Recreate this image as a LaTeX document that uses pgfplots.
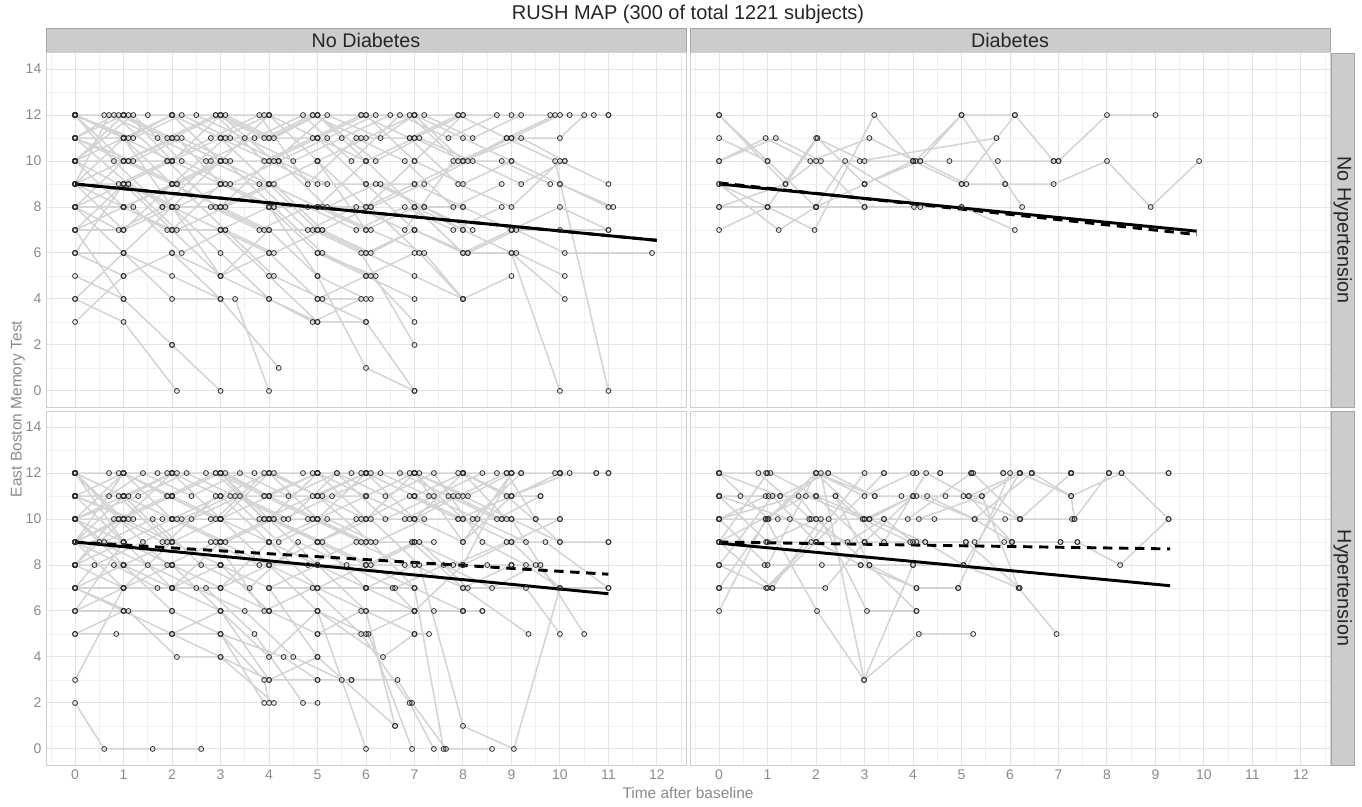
\documentclass[border=0pt]{standalone}
\usepackage{fontspec}
\setmainfont{Liberation Sans}
\usepackage{pgfplots}
\pgfplotsset{compat=1.18}
\definecolor{gridmaj}{HTML}{E3E3E3}
\definecolor{gridmin}{HTML}{F1F1F1}
\definecolor{paneledge}{HTML}{CFCFCF}
\definecolor{stripbg}{HTML}{CCCCCC}
\definecolor{stripedge}{HTML}{A6A6A6}
\definecolor{trajline}{HTML}{D4D4D4}
\definecolor{ticktext}{HTML}{8A8A8A}
\definecolor{titletext}{HTML}{262626}
\pgfplotsset{
  panel/.style={
    scale only axis, width=480pt, height=265.5pt,
    xmin=-0.6, xmax=12.6, ymin=-0.7, ymax=14.7,
    xtick={0,...,12}, ytick={0,2,...,14},
    minor xtick={-0.5,0.5,...,12.5}, minor ytick={1,3,...,13},
    grid=both,
    major grid style={draw=gridmaj, line width=0.75pt},
    minor grid style={draw=gridmin, line width=0.5pt},
    axis line style={draw=paneledge, line width=0.75pt},
    tick style={draw=none},
    major tick length=0pt, minor tick length=0pt,
    unbounded coords=jump,
    ticklabel style={font=\fontsize{10.5}{12}\selectfont, text=ticktext},
    /pgf/number format/assume math mode=true,
  },
  traj/.style={draw=trajline, line width=1.15pt, mark=o, mark size=1.85pt,
    mark options={draw=black!82, line width=0.6pt, fill=none, solid}},
  fitS/.style={black, line width=2.2pt, no marks},
  fitD/.style={black, line width=2.2pt, dash pattern=on 7pt off 5pt, no marks},
}
\begin{document}
\begin{tikzpicture}
\path[use as bounding box] (0,0) rectangle (1021.5pt,-604.5pt);
% strips
\draw[fill=stripbg, draw=stripedge, line width=0.5pt] (34.5pt,-21pt) rectangle (514.5pt,-39pt);
\draw[fill=stripbg, draw=stripedge, line width=0.5pt] (517.5pt,-21pt) rectangle (997.5pt,-39pt);
\draw[fill=stripbg, draw=stripedge, line width=0.5pt] (998.5pt,-39.75pt) rectangle (1015.5pt,-305.25pt);
\draw[fill=stripbg, draw=stripedge, line width=0.5pt] (998.5pt,-308.25pt) rectangle (1015.5pt,-573.75pt);
\node[font=\fontsize{14.8}{16}\selectfont, text=titletext] at (274.5pt,-30pt) {No Diabetes};
\node[font=\fontsize{14.8}{16}\selectfont, text=titletext] at (757.5pt,-30pt) {Diabetes};
\node[font=\fontsize{14.8}{16}\selectfont, text=titletext, rotate=-90] at (1007pt,-172.5pt) {No Hypertension};
\node[font=\fontsize{14.8}{16}\selectfont, text=titletext, rotate=-90] at (1007pt,-441pt) {Hypertension};
\node[font=\fontsize{15}{17}\selectfont, text=titletext] at (516pt,-10.5pt) {RUSH MAP (300 of total 1221 subjects)};
\node[font=\fontsize{11.6}{13}\selectfont, text=ticktext] at (516pt,-595pt) {Time after baseline};
\node[font=\fontsize{11.6}{13}\selectfont, text=ticktext, rotate=90] at (13.5pt,-306.75pt) {East Boston Memory Test};

% ---------------- Top-left: No Diabetes, No Hypertension
\begin{axis}[panel, at={(34.5pt,-39.75pt)}, anchor=north west, xticklabels={}]
\addplot[traj] coordinates {
(0,12)(0.9,12)(1.9,11)(2.9,12)(3.9,10)(4.9,11)(5.9,12)(6.9,12)(7.9,10)(9.0,11)(10,12)(11,12) (nan,nan)
(0,11)(1.0,11)(2.0,10)(3.0,11)(4.0,9)(5.0,10)(6.0,8)(7.0,9)(8.0,8)(9.0,7)(10.0,8)(11,7) (nan,nan)
(0,10)(1.1,10)(2.1,9)(3.1,10)(4.1,8)(5.1,8)(6.1,7)(7.2,6)(8.0,4)(9.0,5) (nan,nan)
(0,9)(1.0,9)(2.0,8)(3.0,8)(4.0,7)(5.0,7)(6.0,6)(7.0,7)(8.1,6)(9.1,7)(10.1,6)(11.9,6) (nan,nan)
(0,8)(1.0,8)(2.0,7)(3.0,9)(4.0,8)(5.0,6)(6.0,5)(7.0,4) (nan,nan)
(0,7)(1.0,8)(2.0,7)(3.0,7)(4.0,6)(5.0,4)(6.0,3)(7.0,0) (nan,nan)
(0,6)(1.0,6)(2.0,5)(3.0,4)(4.2,1) (nan,nan)
(0,5)(1.0,4)(2.0,2)(3.0,0) (nan,nan)
(0,4)(1.0,3)(2.1,0) (nan,nan)
(0,3)(1.0,5)(2.0,6)(3.0,4) (nan,nan)
(0,12)(1.1,11)(2.0,12)(3.1,12)(4.1,11)(5.0,12)(6.2,10)(7.1,11)(8.2,10)(9.2,9)(10.1,10) (nan,nan)
(0,11)(0.8,12)(1.9,10)(2.8,11)(3.8,12)(4.8,9)(5.8,11)(6.8,10)(7.8,8)(8.8,9) (nan,nan)
(0,10)(1.2,12)(2.2,10)(3.2,9)(4.2,10)(5.2,8)(6.2,9)(7.2,8)(8.2,7) (nan,nan)
(0,9)(0.7,12)(1.7,11)(2.7,10)(3.7,11)(4.7,12)(5.7,10)(6.7,12)(7.7,11)(8.7,12)(9.8,12)(10.7,12) (nan,nan)
(0,8)(1.0,10)(2.0,9)(3.0,10)(4.0,12)(5.0,11)(6.0,12)(7.0,10)(8.0,9)(9.0,10)(10.0,9)(11.0,8) (nan,nan)
(0,12)(1.0,10)(2.1,11)(3.0,9)(4.0,8)(5.0,5)(6.0,4) (nan,nan)
(0,10)(1.0,11)(2.0,8)(3.0,6)(4.0,4)(4.9,3)(5.9,4) (nan,nan)
(0,9)(1.1,9)(2.1,7)(3.1,8)(4.1,9)(5.1,7)(6.1,8)(7.2,9)(8.1,10) (nan,nan)
(0,11)(1.2,10)(2.2,11)(3.2,10)(4.2,10)(5.2,11)(6.2,12)(7.2,12)(8.2,11)(9.2,12) (nan,nan)
(0,12)(0.6,12)(1.5,12)(2.5,12)(3.5,11)(4.5,10)(5.5,11)(6.5,12) (nan,nan)
(0,7)(1.0,7)(2.0,8)(3.0,10)(4.0,9)(5.0,10)(6.0,7)(7.0,8)(8.0,7)(9.0,6)(10.1,4) (nan,nan)
(0,8)(1.2,8)(2.2,6)(3.1,7)(4.1,5)(5.1,4)(6.1,4) (nan,nan)
(0,10)(0.9,9)(1.9,10)(2.9,8)(3.9,7)(4.9,7)(5.9,6)(7.0,2) (nan,nan)
(0,11)(1.0,12)(2.0,11)(3.0,12)(3.9,12)(4.9,12)(5.9,11)(6.9,11)(7.9,12)(8.9,11)(9.9,10)(11,0) (nan,nan)
(0,9)(1.0,7)(2.0,9)(3.0,8)(4.0,10)(5.0,9)(6.0,9)(7.0,7)(8.0,6)(9.0,6)(10.0,0) (nan,nan)
(0,12)(1.0,12)(2.0,12)(3.0,11)(4.0,12)(5.0,10)(6.0,8)(7.0,10)(8.0,12)(9.0,12)(10.2,12) (nan,nan)
(0,10)(1.1,10)(2.0,10)(3.0,9)(4.0,9)(5.0,8)(6.1,8)(7.1,6)(8.0,4) (nan,nan)
(0,8)(1.0,6)(2.0,4)(3.3,4)(4.0,0) (nan,nan)
(0,7)(1.0,4)(2.0,2) (nan,nan)
(0,6)(1.0,9)(2.0,7)(3.0,5)(4.0,7)(5.0,5)(6.0,1)(7.0,0) (nan,nan)
(0,12)(1.1,12)(2.0,10)(3.0,12)(4.1,10)(5.2,12)(6.3,11)(7.0,12)(7.9,12) (nan,nan)
(0,11)(1.0,11)(2.0,9)(3.1,11)(4.0,11)(5.0,11)(6.0,9)(7.0,9)(8.0,10)(8.9,11)(9.9,12) (nan,nan)
(0,10)(1.0,8)(2.0,9)(3.0,9)(4.0,8)(5.0,8)(6.0,7)(7.0,8)(8.0,8)(9.0,7)(10.0,7)(11.0,7) (nan,nan)
(0,9)(1.0,8)(2.1,9)(3.1,7)(4.1,6)(5.1,7)(6.1,6)(7.0,7)(8.1,6)(9.1,6)(10.1,5) (nan,nan)
(0,12)(1.0,11)(2.0,12)(2.9,12)(3.9,11)(4.9,12)(5.9,12)(6.9,11)(7.9,9)(9.0,8)(10.0,10)(11.0,9) (nan,nan)
(0,8)(0.9,7)(1.8,8)(2.8,8)(3.8,7)(4.8,8)(5.8,7)(6.8,8)(7.8,7)(8.8,8) (nan,nan)
(0,6)(1.0,5)(2.0,6)(3.0,5)(4.0,4)(5.0,3) (nan,nan)
(0,4)(1.0,6)(2.0,8)(3.0,5)(4.0,6)(5.0,4)(6.0,5)(7.0,6) (nan,nan)
(0,10)(1.0,12)(2.0,12)(3.0,10)(4.0,12)(5.0,10)(6.0,11)(7.0,12)(8.0,11)(9.0,10)(10.0,9)(11.1,8) (nan,nan)
(0,11)(1.0,10)(2.0,9)(3.0,8)(4.0,9)(5.0,7)(6.0,6)(7.0,5)(8.0,4) (nan,nan)
(0,9)(1.0,10)(2.0,11)(3.0,10)(4.0,9)(5.0,8)(6.0,10)(7.0,8)(8.0,6)(9.0,7) (nan,nan)
(0,12)(1.2,11)(2.2,12)(3.2,11)(4.2,10)(5.2,9)(6.3,9)(7.2,8)(8.0,7) (nan,nan)
(0,7)(1.0,9)(2.0,10)(3.0,11)(4.0,10)(5.0,11)(6.0,10)(7.0,11)(8.0,12) (nan,nan)
(0,9)(1.0,11)(2.0,8)(3.0,7)(4.0,8)(5.0,6)(6.2,5) (nan,nan)
(0,10)(1.0,8)(1.9,7)(3.0,7)(4.0,5)(5.0,3)(6.0,3) (nan,nan)
(0,8)(1.0,9)(2.0,10)(3.0,12)(4.0,11)(5.0,12)(6.0,12)(7.0,12)(8.0,10)(9.0,11)(10.0,11)(10.5,12)(11.0,12) (nan,nan)
(0,12)(0.8,10)(1.8,8)(2.8,10)(3.8,9)(4.8,7)(5.8,8)(6.8,7)(7.8,10)(8.8,10)(9.8,9) (nan,nan)
(0,11)(1.1,9)(2.1,8)(3.1,9)(4.1,8)(5.1,6)(6.1,5)(7.0,3) (nan,nan)
(0,10)(1.0,12)(2.0,11)(3.0,12)(4.0,12)(5.0,12)(6.0,10)(7.0,11)(8.0,10)(9.2,11)(10.1,10) (nan,nan)
};
\addplot[fitD] coordinates {(0,9.0)(12,6.55)};
\addplot[fitS] coordinates {(0,9.0)(12,6.55)};
\end{axis}

% ---------------- Top-right: Diabetes, No Hypertension
\begin{axis}[panel, at={(517.5pt,-39.75pt)}, anchor=north west, xticklabels={}, yticklabels={}]
\addplot[traj] coordinates {
(0,12)(1.37,9)(2.03,11)(3.0,9)(4.15,10)(5.1,9)(5.9,9)(6.9,9)(8.0,10)(8.9,8)(9.9,10) (nan,nan)
(0,11)(1.0,10)(2.0,8)(3.0,8)(4.02,8)(5.0,8)(6.1,7) (nan,nan)
(0,10)(0.96,11)(1.88,10)(3.1,11)(4.05,10)(5.0,12)(6.25,8) (nan,nan)
(0,10)(1.17,11)(2.1,10)(2.9,10)(5.72,11) (nan,nan)
(0,8)(1.0,8)(2.0,8)(3.0,9)(4.0,10)(4.75,10)(5.75,10)(7.0,10)(8.0,12)(9.0,12) (nan,nan)
(0,7)(1.0,8)(1.97,7)(3.2,12)(4.0,10)(5.0,9)(6.1,12)(6.9,10) (nan,nan)
(0,9)(1.23,7)(2.0,8)(2.6,10)(4.15,8)(5.0,8) (nan,nan)
(0,8)(1.37,9)(2.0,10)(3.0,8) (nan,nan)
(0,9)(1.0,8)(2.0,11)(3.0,10)(4.0,10)(5.0,9)(5.9,9) (nan,nan)
(0,12)(1.0,10)(2.0,8)(3.0,9)(4.15,10)(5.0,12)(6.1,12)(6.9,10)(7.0,10) (nan,nan)
};
\addplot[fitD] coordinates {(0,9.05)(9.85,6.8)};
\addplot[fitS] coordinates {(0,9.0)(9.85,6.95)};
\end{axis}

% ---------------- Bottom-left: No Diabetes, Hypertension
\begin{axis}[panel, at={(34.5pt,-308.25pt)}, anchor=north west]
\addplot[traj] coordinates {
(0,12)(0.9,12)(1.9,12)(2.9,12)(3.9,11)(5.0,12)(6.0,12)(7.0,12)(8.0,12)(9.0,12)(10.0,12)(11.0,12) (nan,nan)
(0,12)(1.0,11)(2.0,12)(3.0,10)(4.0,12)(5.0,11)(6.0,12)(7.0,10)(8.0,9)(9.0,11)(10.2,12) (nan,nan)
(0,11)(1.0,12)(2.0,11)(3.0,12)(4.0,10)(5.0,10)(6.0,11)(7.0,12)(8.0,11)(9.0,10)(10.0,9)(11.0,9) (nan,nan)
(0,11)(1.1,10)(2.1,10)(3.1,9)(4.1,10)(5.1,9)(6.1,8)(7.1,9)(8.1,7)(9.3,7)(10.0,5) (nan,nan)
(0,10)(1.0,10)(2.0,9)(3.0,10)(4.0,8)(5.0,9)(6.0,7)(7.0,6)(8.0,6)(8.4,6) (nan,nan)
(0,10)(0.6,9)(1.6,10)(2.6,8)(3.6,7)(4.6,9)(5.6,8)(6.6,7)(7.6,8)(8.6,7)(9.5,8) (nan,nan)
(0,9)(1.0,9)(2.0,8)(3.0,8)(4.0,7)(5.0,7)(6.0,6)(7.0,5)(7.3,5) (nan,nan)
(0,9)(0.5,9)(1.5,8)(2.5,7)(3.5,6)(4.5,4)(5.5,3) (nan,nan)
(0,8)(1.0,8)(2.0,7)(3.0,7)(4.0,6)(5.0,5)(5.9,6)(7.0,6)(8.0,8)(9.0,12) (nan,nan)
(0,8)(0.8,8)(1.7,7)(2.7,7)(3.7,5)(4.7,2)(5.0,2) (nan,nan)
(0,7)(1.0,7)(2.0,7)(3.0,6)(4.0,3)(5.0,4) (nan,nan)
(0,7)(1.1,6)(2.1,4)(3.0,4)(4.1,2) (nan,nan)
(0,6)(1.0,6)(2.0,6)(3.0,5)(3.9,3)(4.0,2) (nan,nan)
(0,5)(0.85,5)(2.0,5)(3.0,5)(3.9,2) (nan,nan)
(0,3)(1.0,7)(2.0,9)(3.0,8) (nan,nan)
(0,2)(0.6,0)(1.6,0)(2.6,0) (nan,nan)
(0,12)(1.0,12)(1.9,11)(2.9,10)(3.9,12)(4.9,12)(5.9,12)(6.9,12)(7.9,12)(8.9,12)(9.9,12)(10.75,12) (nan,nan)
(0,11)(0.7,11)(1.4,12)(2.4,11)(3.4,12)(4.4,11)(5.4,12)(6.4,10)(7.4,11)(8.4,12)(9.2,12) (nan,nan)
(0,10)(1.3,11)(2.3,12)(3.3,11)(4.3,10)(5.3,11)(6.3,12)(7.3,11)(8.3,10)(9.3,9) (nan,nan)
(0,9)(1.0,12)(2.0,10)(3.0,11)(4.0,9)(5.0,10)(6.0,10)(6.9,11)(7.9,10)(9.0,11)(9.6,11) (nan,nan)
(0,8)(1.0,10)(2.0,11)(3.0,12)(4.0,11)(5.0,12)(6.1,12)(7.1,12)(8.0,12)(8.9,10)(10,10) (nan,nan)
(0,12)(0.9,10)(1.9,8)(2.9,9)(3.9,6)(4.9,7)(5.9,5)(6.9,2)(7.4,0) (nan,nan)
(0,11)(1.0,9)(2.0,8)(3.0,6)(4.0,6)(5.0,6)(6.0,0) (nan,nan)
(0,10)(1.0,8)(2.0,7)(3.0,8)(4.0,7)(5.0,4)(6.6,1) (nan,nan)
(0,9)(1.0,10)(2.0,9)(3.0,9)(4.0,8)(5.0,8)(6.0,7)(7.0,7)(7.6,0)(8.6,0) (nan,nan)
(0,10)(1.0,11)(2.0,10)(3.0,10)(4.1,10)(5.0,9)(6.1,10)(7.1,8)(8.0,1)(9.05,0)(10.0,7) (nan,nan)
(0,8)(1.0,9)(2.0,10)(3.0,9)(4.0,9)(5.0,10)(6.0,9)(7.0,9)(8.0,8)(9.0,9)(10.0,7)(11,7) (nan,nan)
(0,7)(1.0,8)(2.0,9)(3.0,10)(4.0,11)(5.0,10)(6.0,11)(7.0,12)(8.1,11)(9.0,12) (nan,nan)
(0,6)(1.0,7)(2.0,8)(3.0,7)(4.0,8)(5.0,6)(6.0,5)(7.0,6)(7.4,6) (nan,nan)
(0,12)(1.0,10)(2.0,12)(3.0,11)(4.0,12)(5.0,12)(6.0,10)(7.0,12)(8.0,10)(9.0,9)(10.0,10) (nan,nan)
(0,11)(1.1,11)(2.0,12)(3.1,12)(4.0,11)(5.1,11)(6.0,11)(7.0,10)(7.9,11)(8.9,12)(9.5,10) (nan,nan)
(0,10)(0.9,10)(1.9,11)(2.9,12)(3.9,10)(4.9,10)(6.0,9)(6.95,9)(8.0,7)(9.35,5) (nan,nan)
(0,9)(1.0,11)(2.0,12)(3.0,12)(4.1,12)(5.0,11)(6.1,9)(7.0,7)(8.0,6) (nan,nan)
(0,8)(1.0,7)(2.0,8)(3.0,8)(4.0,8)(5.0,7)(6.0,8)(7.0,8)(8.0,8)(8.5,8)(9.0,8)(9.6,8) (nan,nan)
(0,12)(1.0,9)(2.0,10)(3.0,9)(4.0,10)(5.0,8)(6.0,8)(7.0,7)(8.0,6)(8.4,6) (nan,nan)
(0,11)(1.2,10)(2.2,10)(3.2,11)(4.2,9)(5.2,10)(6.2,9)(7.2,10)(8.2,10)(9.2,12)(10.0,12)(11.0,12) (nan,nan)
(0,10)(1.0,10)(2.0,11)(3.0,10)(4.0,10)(5.0,12)(6.0,12)(7.0,11)(8.0,10)(9.0,10)(10.5,5) (nan,nan)
(0,9)(0.9,10)(1.8,9)(2.8,9)(3.8,8)(4.8,8)(5.8,9)(6.8,8)(7.8,8)(8.9,9)(9.7,9)(11.0,7) (nan,nan)
(0,7)(1.0,6)(2.0,5)(3.0,4)(4.0,3)(5.0,3)(5.7,3)(6.65,3)(6.95,2)(7.65,0) (nan,nan)
(0,5)(1.0,6)(2.0,5)(3.0,6)(4.0,4)(5.0,6)(6.35,4)(7.0,5) (nan,nan)
(0,12)(1.0,12)(2.0,11)(3.0,12)(4.0,12)(5.0,10)(6.0,12)(7.0,11)(8.0,12)(8.7,12) (nan,nan)
(0,11)(1.0,11)(2.0,10)(3.0,11)(4.0,12)(5.0,11)(6.0,10)(7.0,12) (nan,nan)
(0,10)(1.0,12)(2.0,11)(3.0,10)(4.0,11)(5.0,12)(6.0,11)(7.0,10)(8.0,12)(8.9,11)(10.0,9)(11.0,9) (nan,nan)
(0,9)(1.0,7)(2.0,7)(3.0,7)(4.0,9)(5.0,7)(6.0,7)(6.55,7)(7.0,6) (nan,nan)
(0,8)(1.0,8)(2.0,8)(3.0,8)(4.0,7)(5.0,8)(6.0,6)(6.6,1) (nan,nan)
(0,12)(0.7,12)(1.7,12)(2.7,12)(3.7,12)(4.7,12)(5.7,12)(6.7,12)(7.7,11)(8.7,10)(9.6,11) (nan,nan)
(0,10)(1.0,9)(2.0,10)(3.0,10)(4.0,10)(5.0,9)(5.9,10)(6.9,10)(7.9,10)(8.8,10)(9.5,10) (nan,nan)
(0,11)(0.9,11)(1.9,9)(2.9,11)(3.9,11)(4.9,10)(5.9,9)(6.95,9)(7.4,9) (nan,nan)
(0,9)(1.0,8)(2.0,6)(3.0,5)(4.3,4)(5.0,3)(5.7,3) (nan,nan)
(0,6)(1.0,9)(2.0,7)(3.0,9)(4.0,10)(5.0,9)(6.0,8)(7.0,9)(8.0,8)(9.0,8) (nan,nan)
(0,12)(1.0,11)(2.0,9)(3.0,8)(4.0,6)(5.0,5)(6.05,5)(6.95,0) (nan,nan)
(0,10)(1.0,12)(2.1,12)(3.0,12)(3.9,10)(4.9,11)(6.0,12)(7.0,11)(8.0,12)(9.0,11)(10.0,12) (nan,nan)
(0,7)(0.4,8)(1.4,9)(2.4,10)(3.4,11)(4.4,10)(5.4,12)(6.4,11)(7.4,12)(8.4,9)(9.3,8)(10,7) (nan,nan)
(0,9)(1.0,10)(2.0,11)(3.0,10)(4.0,9)(5.0,8)(6.0,7)(7.0,8)(8.0,7)(9.0,8) (nan,nan)
(0,8)(0.8,10)(1.8,10)(2.8,10)(3.8,10)(4.8,10)(5.8,10)(6.8,10)(7.8,11)(8.8,10) (nan,nan)
(0,11)(1.0,11)(2.0,12)(3.0,12)(4.0,10)(5.0,12)(6.0,12)(7.0,12)(8.0,9)(9.0,12)(10.0,12)(10.75,12) (nan,nan)
};
\addplot[fitD] coordinates {(0,9.0)(11,7.6)};
\addplot[fitS] coordinates {(0,9.0)(11,6.75)};
\end{axis}

% ---------------- Bottom-right: Diabetes, Hypertension
\begin{axis}[panel, at={(517.5pt,-308.25pt)}, anchor=north west, yticklabels={}]
\addplot[traj] coordinates {
(0,12)(0.97,12)(2.0,12)(3.0,10)(3.89,10)(5.2,12)(6.2,12)(7.26,12)(8.04,12)(9.27,12) (nan,nan)
(0,12)(1.06,12)(2.0,11)(3.1,10)(4.0,11)(5.04,11)(6.2,10)(7.28,10) (nan,nan)
(0,11)(0.44,11)(1.02,11)(2.0,11)(2.4,11)(3.4,9)(4.27,12)(5.15,11)(6.21,12)(7.26,11)(8.3,12)(9.27,10) (nan,nan)
(0,11)(1.26,11)(2.25,12)(3.21,11)(4.07,11)(5.27,10)(6.45,12) (nan,nan)
(0,10)(0.96,10)(1.86,10)(2.96,10)(3.94,9)(5.09,9)(6.04,9)(7.04,9) (nan,nan)
(0,10)(1.21,10)(2.26,10)(3.1,10)(4.12,10)(5.42,11)(6.18,7) (nan,nan)
(0,9)(0.97,9)(2.0,9)(3.0,9)(4.07,9)(5.27,9)(5.88,9)(7.39,9) (nan,nan)
(0,9)(1.1,7)(2.19,7)(3.0,9)(4.25,9) (nan,nan)
(0,8)(0.94,8)(2.12,8)(2.92,8)(4.0,8)(5.04,8)(6.2,12) (nan,nan)
(0,8)(1.0,7)(2.0,9)(3.4,12)(4.56,12)(5.24,12)(6.21,10)(7.33,10)(8.04,12) (nan,nan)
(0,7)(0.97,7)(1.9,9)(3.0,12)(4.07,12)(5.2,12)(5.86,12)(6.45,12)(7.26,11)(7.33,10) (nan,nan)
(0,7)(1.1,7)(2.1,10)(3.05,6)(4.07,6) (nan,nan)
(0,6)(0.96,10)(2.02,6)(2.99,3)(4.0,8) (nan,nan)
(0,12)(1.02,10)(2.1,12)(2.99,3)(4.12,5)(5.24,5) (nan,nan)
(0,11)(1.46,10)(2.65,9)(3.4,10)(4.44,10)(5.9,10)(6.21,10)(7.26,12) (nan,nan)
(0,10)(1.64,11)(2.0,10)(3.1,8)(4.07,7)(4.93,7)(6.0,12) (nan,nan)
(0,9)(1.79,11)(3.0,10)(4.0,11)(4.29,11)(5.27,10)(6.04,9)(7.39,9)(8.27,8)(9.27,10) (nan,nan)
(0,12)(0.81,12)(1.9,10)(3.1,10)(4.25,9)(5.04,8)(6.18,7)(6.96,5) (nan,nan)
(0,10)(1.0,8)(2.0,12)(3.21,11)(3.76,11)(4.67,11)(5.42,11)(6.2,12)(7.26,12) (nan,nan)
(0,8)(1.1,11)(2.0,9)(2.92,8)(4.07,7)(4.93,7) (nan,nan)
(0,11)(1.0,9)(2.0,10)(3.4,10)(4.0,9)(5.09,9)(6.2,7) (nan,nan)
(0,9)(1.0,12)(2.25,12)(3.4,12)(4.56,12)(5.86,12)(6.45,12)(7.26,12)(8.3,12)(9.27,12) (nan,nan)
(0,10)(0.96,11)(2.0,11)(3.0,9)(4.0,11)(5.15,11)(6.04,9)(7.04,9) (nan,nan)
(0,12)(1.26,11)(2.4,11)(3.1,8)(4.07,6) (nan,nan)
(0,7)(1.0,10)(2.0,12)(3.0,11)(4.0,12)(5.2,12)(6.45,12)(7.26,12)(8.04,12) (nan,nan)
};
\addplot[fitD] coordinates {(0,9.0)(9.3,8.7)};
\addplot[fitS] coordinates {(0,8.95)(9.3,7.1)};
\end{axis}
\end{tikzpicture}
\end{document}
